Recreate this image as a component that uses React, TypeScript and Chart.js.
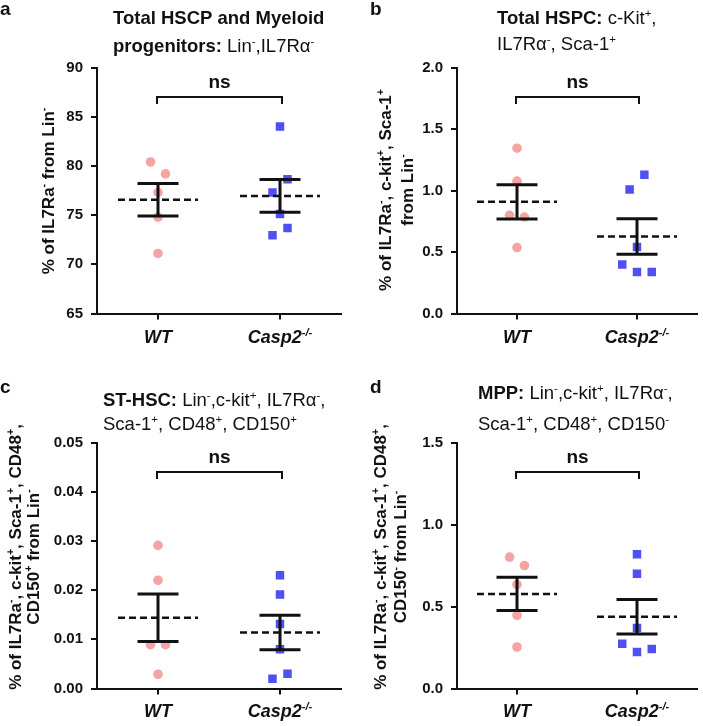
import React, { useEffect, useRef } from 'react';
import { Chart, registerables } from 'chart.js';

Chart.register(...registerables);

// ---------- data ----------
const categories = ['WT', 'Casp2'];

// panel a
const wtA = [80.4, 79.2, 77.3, 74.8, 71.1];
const caspA = [84.0, 78.65, 77.3, 75.1, 73.7, 72.96];
const wtJitA = [-1, 1, 0, 0, 0];
const caspJitA = [0, 1, -1, 0, 1, -1];
const ticksA = [65, 70, 75, 80, 85, 90];

// panel b
const wtB = [1.344, 1.076, 0.798, 0.784, 0.536];
const caspB = [1.128, 1.009, 0.541, 0.398, 0.338, 0.338];
const wtJitB = [0, 0, -1, 1, 0];
const caspJitB = [1, -1, 0, -2, 0, 2];
const ticksB = [0, 0.5, 1.0, 1.5, 2.0];

// panel c
const wtC = [0.0291, 0.022, 0.0089, 0.0089, 0.0029];
const caspC = [0.023, 0.0191, 0.0131, 0.008, 0.003, 0.002];
const wtJitC = [0, 0, -1, 1, 0];
const caspJitC = [0, 0, 0, 0, 1, -1];
const ticksC = [0, 0.01, 0.02, 0.03, 0.04, 0.05];

// panel d
const wtD = [0.801, 0.75, 0.634, 0.446, 0.253];
const caspD = [0.819, 0.699, 0.369, 0.273, 0.222, 0.241];
const wtJitD = [-1, 1, 0, 0, 0];
const caspJitD = [0, 0, 0, -2, 0, 2];
const ticksD = [0, 0.5, 1.0, 1.5];

const sigLabels = ['ns', 'ns', 'ns', 'ns'];

// ---------- styles ----------
const FONT = '"Liberation Sans", Arial, Helvetica, sans-serif';
const PINK = '#F5A3A3';
const BLUE = '#4F4FF2';
const JIT = 0.0615;
const TITLE_SIZE = 18.5;
const YTITLE_SIZE = 17;
const XLABEL_SIZE = 18;

type Seg = { t: string; b?: boolean; sup?: boolean; i?: boolean };

const M = (): Seg => ({ t: '-', sup: true });
const P = (): Seg => ({ t: '+', sup: true });

function segFont(s: Seg, size: number, baseBold: boolean) {
  const sz = s.sup ? size * 0.62 : size;
  const bold = s.b !== undefined ? s.b : baseBold;
  return `${s.i ? 'italic ' : ''}${bold ? 'bold ' : ''}${sz}px ${FONT}`;
}
function richWidth(ctx: CanvasRenderingContext2D, segs: Seg[], size: number, baseBold: boolean) {
  let w = 0;
  for (const s of segs) {
    ctx.font = segFont(s, size, baseBold);
    w += ctx.measureText(s.t).width;
  }
  return w;
}
function drawRich(
  ctx: CanvasRenderingContext2D,
  segs: Seg[],
  x: number,
  y: number,
  size: number,
  baseBold: boolean,
  align: 'left' | 'center'
) {
  const w = richWidth(ctx, segs, size, baseBold);
  let cx = align === 'center' ? x - w / 2 : x;
  ctx.textAlign = 'left';
  ctx.textBaseline = 'alphabetic';
  for (const s of segs) {
    ctx.font = segFont(s, size, baseBold);
    const dy = s.sup ? -size * 0.4 : 0;
    ctx.fillText(s.t, cx, y + dy);
    cx += ctx.measureText(s.t).width;
  }
}

interface PanelCfg {
  letter: string;
  letterX: number;
  letterY: number;
  title: Seg[][];
  titleX: number;
  titleY: number[];
  yTitle: Seg[][];
  yTitleX: number[];
  yTitleCY: number;
  wt: number[];
  casp: number[];
  wtJ: number[];
  caspJ: number[];
  ticks: number[];
  dec: number;
  sig: string;
  labelY: number;
}

const panels: PanelCfg[] = [
  {
    letter: 'a', letterX: 0, letterY: 15,
    title: [
      [{ t: 'Total HSCP and Myeloid', b: true }],
      [{ t: 'progenitors: ', b: true }, { t: 'Lin' }, M(), { t: ',IL7Rα' }, M()],
    ],
    titleX: 113, titleY: [24, 52],
    yTitle: [[{ t: '% of IL7Ra' }, M(), { t: ' from Lin' }, M()]],
    yTitleX: [54], yTitleCY: 191,
    wt: wtA, casp: caspA, wtJ: wtJitA, caspJ: caspJitA, ticks: ticksA, dec: 0,
    sig: sigLabels[0], labelY: 343,
  },
  {
    letter: 'b', letterX: 10, letterY: 15,
    title: [
      [{ t: 'Total HSPC: ', b: true }, { t: 'c-Kit' }, P(), { t: ',' }],
      [{ t: 'IL7Rα' }, M(), { t: ', Sca-1' }, P()],
    ],
    titleX: 137, titleY: [24, 50],
    yTitle: [
      [{ t: '% of IL7Ra' }, M(), { t: ', c-kit' }, P(), { t: ', Sca-1' }, P()],
      [{ t: 'from Lin' }, M()],
    ],
    yTitleX: [31, 53], yTitleCY: 190,
    wt: wtB, casp: caspB, wtJ: wtJitB, caspJ: caspJitB, ticks: ticksB, dec: 1,
    sig: sigLabels[1], labelY: 343,
  },
  {
    letter: 'c', letterX: 0, letterY: 18,
    title: [
      [{ t: 'ST-HSC: ', b: true }, { t: 'Lin' }, M(), { t: ',c-kit' }, P(), { t: ', IL7Rα' }, M(), { t: ',' }],
      [{ t: 'Sca-1' }, P(), { t: ', CD48' }, P(), { t: ', CD150' }, P()],
    ],
    titleX: 103, titleY: [31, 55],
    yTitle: [
      [{ t: '% of IL7Ra' }, M(), { t: ', c-kit' }, P(), { t: ', Sca-1' }, P(), { t: ', CD48' }, P(), { t: ',' }],
      [{ t: 'CD150' }, P(), { t: ' from Lin' }, M()],
    ],
    yTitleX: [21, 39], yTitleCY: 182,
    wt: wtC, casp: caspC, wtJ: wtJitC, caspJ: caspJitC, ticks: ticksC, dec: 2,
    sig: sigLabels[2], labelY: 342,
  },
  {
    letter: 'd', letterX: 10, letterY: 18,
    title: [
      [{ t: 'MPP: ', b: true }, { t: 'Lin' }, M(), { t: ',c-kit' }, P(), { t: ', IL7Rα' }, M(), { t: ',' }],
      [{ t: 'Sca-1' }, P(), { t: ', CD48' }, P(), { t: ', CD150' }, M()],
    ],
    titleX: 118, titleY: [24, 55],
    yTitle: [
      [{ t: '% of IL7Ra' }, M(), { t: ', c-kit' }, P(), { t: ', Sca-1' }, P(), { t: ', CD48' }, P(), { t: ',' }],
      [{ t: 'CD150' }, M(), { t: ' from Lin' }, M()],
    ],
    yTitleX: [26, 46], yTitleCY: 182,
    wt: wtD, casp: caspD, wtJ: wtJitD, caspJ: caspJitD, ticks: ticksD, dec: 1,
    sig: sigLabels[3], labelY: 342,
  },
];

const mean = (a: number[]) => a.reduce((s, v) => s + v, 0) / a.length;
const sem = (a: number[]) => {
  const m = mean(a);
  const v = a.reduce((s, x) => s + (x - m) ** 2, 0) / (a.length - 1);
  return Math.sqrt(v / a.length);
};

const AREA_LEFT = 97;
const AREA_RIGHT = 341;
const AREA_TOP = 67.5;
const AREA_BOTTOM = 313.5;
const XAXIS_H = 30;

function Panel({ cfg, left, top, W, H }: { cfg: PanelCfg; left: number; top: number; W: number; H: number }) {
  const ref = useRef<HTMLCanvasElement>(null);
  useEffect(() => {
    const canvas = ref.current!;
    const ymin = cfg.ticks[0];
    const ymax = cfg.ticks[cfg.ticks.length - 1];

    const overlay = {
      id: 'overlay' + cfg.letter,
      afterDraw(chart: any) {
        const ctx: CanvasRenderingContext2D = chart.ctx;
        const xs = chart.scales.x;
        const ys = chart.scales.y;
        const area = chart.chartArea;
        ctx.save();
        ctx.fillStyle = '#111';
        ctx.strokeStyle = '#111';
        // mean and SEM
        [cfg.wt, cfg.casp].forEach((vals, gi) => {
          const cx = xs.getPixelForValue(gi + 1);
          const m = mean(vals);
          const s = sem(vals);
          const my = ys.getPixelForValue(m);
          ctx.lineWidth = 2.5;
          ctx.setLineDash([7, 4]);
          ctx.beginPath();
          ctx.moveTo(cx - 40, my);
          ctx.lineTo(cx + 40, my);
          ctx.stroke();
          ctx.setLineDash([]);
          const ty = ys.getPixelForValue(m + s);
          const by = ys.getPixelForValue(m - s);
          ctx.lineWidth = 3;
          ctx.beginPath();
          ctx.moveTo(cx, ty);
          ctx.lineTo(cx, by);
          ctx.moveTo(cx - 20.5, ty);
          ctx.lineTo(cx + 20.5, ty);
          ctx.moveTo(cx - 20.5, by);
          ctx.lineTo(cx + 20.5, by);
          ctx.stroke();
        });
        // significance bracket
        const x1 = xs.getPixelForValue(1) - 1;
        const x2 = xs.getPixelForValue(2) + 2;
        const byk = area.top + 29.5;
        ctx.lineWidth = 2;
        ctx.beginPath();
        ctx.moveTo(x1, byk + 7);
        ctx.lineTo(x1, byk);
        ctx.lineTo(x2, byk);
        ctx.lineTo(x2, byk + 7);
        ctx.stroke();
        ctx.font = `bold 19px ${FONT}`;
        ctx.textAlign = 'center';
        ctx.textBaseline = 'alphabetic';
        ctx.fillText(cfg.sig, (x1 + x2) / 2, byk - 9);
        // x labels
        drawRich(ctx, [{ t: categories[0], b: true, i: true }], xs.getPixelForValue(1), cfg.labelY, XLABEL_SIZE, true, 'center');
        drawRich(
          ctx,
          [{ t: categories[1], b: true, i: true }, { t: '-/-', sup: true, b: true, i: true }],
          xs.getPixelForValue(2),
          cfg.labelY,
          XLABEL_SIZE,
          true,
          'center'
        );
        // panel letter
        ctx.font = `bold 19px ${FONT}`;
        ctx.textAlign = 'left';
        ctx.fillText(cfg.letter, cfg.letterX, cfg.letterY);
        // title
        cfg.title.forEach((line, li) => {
          drawRich(ctx, line, cfg.titleX, cfg.titleY[li], TITLE_SIZE, false, 'left');
        });
        // y title
        cfg.yTitle.forEach((line, li) => {
          ctx.save();
          ctx.translate(cfg.yTitleX[li], cfg.yTitleCY);
          ctx.rotate(-Math.PI / 2);
          drawRich(ctx, line, 0, 0, YTITLE_SIZE, true, 'center');
          ctx.restore();
        });
        ctx.restore();
      },
    };

    const axisCommon = {
      grid: { display: true, drawOnChartArea: false, drawTicks: true, tickLength: 6, color: '#111', lineWidth: 2 },
      border: { display: true, color: '#111', width: 2 },
    };

    const chart = new Chart(canvas, {
      type: 'scatter',
      data: {
        datasets: [
          {
            label: categories[0],
            data: cfg.wt.map((v, i) => ({ x: 1 + cfg.wtJ[i] * JIT, y: v })),
            pointStyle: 'circle',
            pointRadius: 4.8,
            backgroundColor: PINK,
            borderWidth: 0,
          },
          {
            label: categories[1],
            data: cfg.casp.map((v, i) => ({ x: 2 + cfg.caspJ[i] * JIT, y: v })),
            pointStyle: 'rect',
            pointRadius: 6,
            backgroundColor: BLUE,
            borderWidth: 0,
          },
        ],
      },
      options: {
        animation: false,
        responsive: false,
        maintainAspectRatio: false,
        layout: { padding: { left: 0, top: AREA_TOP, right: W - AREA_RIGHT, bottom: H - AREA_BOTTOM - XAXIS_H } },
        plugins: { legend: { display: false }, tooltip: { enabled: false } },
        scales: {
          x: {
            type: 'linear',
            min: 0.5,
            max: 2.5,
            afterBuildTicks: (s: any) => {
              s.ticks = [{ value: 1 }, { value: 2 }];
            },
            afterFit: (s: any) => {
              s.height = XAXIS_H;
            },
            ...axisCommon,
            ticks: { callback: () => '' },
          },
          y: {
            min: ymin,
            max: ymax,
            afterBuildTicks: (s: any) => {
              s.ticks = cfg.ticks.map((v) => ({ value: v }));
            },
            afterFit: (s: any) => {
              s.width = AREA_LEFT;
            },
            ...axisCommon,
            ticks: {
              callback: (v: any) => Number(v).toFixed(cfg.dec),
              font: { size: 15, weight: 'bold', family: FONT },
              color: '#111',
              padding: 8,
            },
          },
        },
      } as any,
      plugins: [overlay],
    });
    return () => chart.destroy();
  }, []);
  return (
    <canvas
      ref={ref}
      width={W}
      height={H}
      style={{ position: 'absolute', left, top, width: W, height: H }}
    />
  );
}

export default function App() {
  return (
    <div style={{ position: 'absolute', left: 0, top: 0, width: 703, height: 726, background: '#fff' }}>
      <Panel cfg={panels[0]} left={0} top={0} W={360} H={375} />
      <Panel cfg={panels[1]} left={360} top={0} W={343} H={375} />
      <Panel cfg={panels[2]} left={0} top={375} W={360} H={351} />
      <Panel cfg={panels[3]} left={360} top={375} W={343} H={351} />
    </div>
  );
}
